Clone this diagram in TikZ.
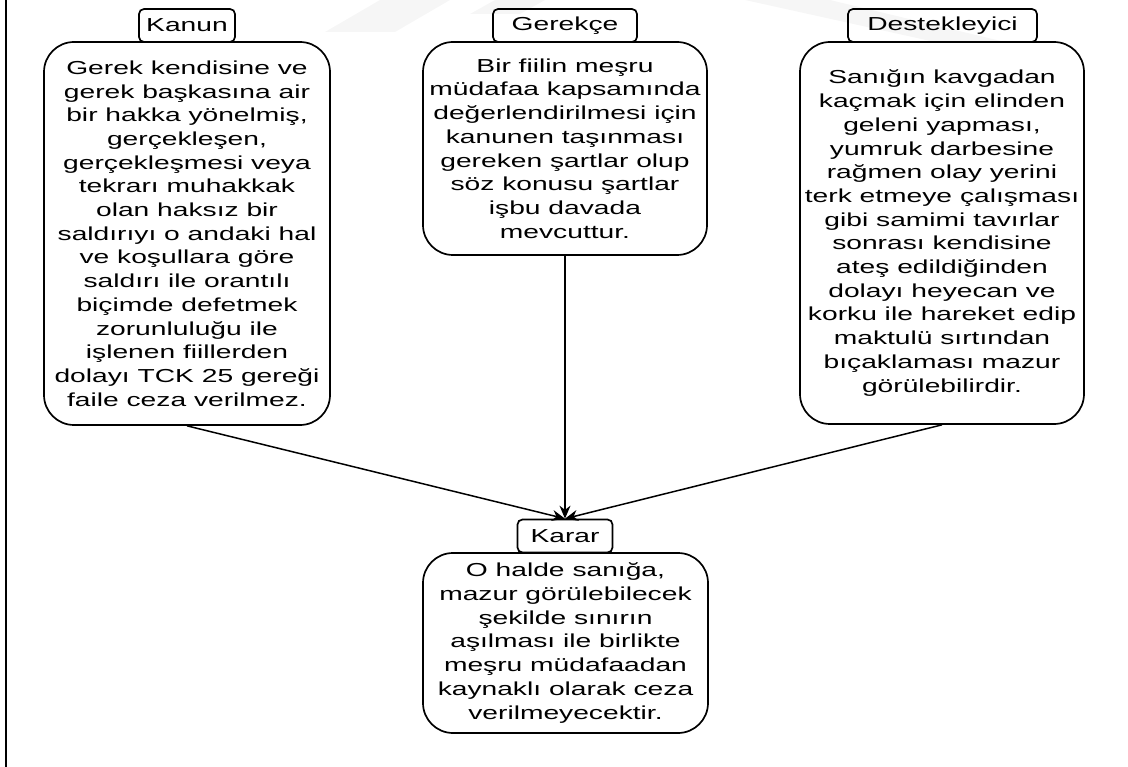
\documentclass[tikz,border=0pt]{standalone}
\usepackage{fontspec}
\setmainfont[FakeStretch=1.5]{Liberation Sans}
\usetikzlibrary{arrows.meta}
\begin{document}
\begin{tikzpicture}[x=1pt,y=-1pt,
  every node/.style={font=\fontsize{18.8}{23.7}\selectfont, inner sep=0pt, align=center},
  titlebox/.style={draw, line width=1.7pt, rounded corners=5pt, minimum height=33pt},
  textbox/.style={draw, line width=1.7pt, rounded corners=30pt},
  link/.style={line width=1.5pt, -{Stealth[length=13pt,width=11pt]}}]
\useasboundingbox (0,0) rectangle (1128,767);
% faint background watermark
\fill[gray!7] (325,32) -- (395,32) -- (450,0) -- (380,0) -- cycle;
\fill[gray!7] (470,14) -- (520,14) -- (545,0) -- (495,0) -- cycle;
\fill[gray!7] (745,0) -- (830,0) -- (1005,42) -- (935,42) -- cycle;
% frame edge
\draw[line width=2pt] (6,0) -- (6,767);

% upper row
\node[textbox, minimum width=286pt, minimum height=383pt] (kanun) at (187,233.5) {Gerek kendisine ve\\gerek başkasına air\\bir hakka yönelmiş,\\gerçekleşen,\\gerçekleşmesi veya\\tekrarı muhakkak\\olan haksız bir\\saldırıyı o andaki hal\\ve koşullara göre\\saldırı ile orantılı\\biçimde defetmek\\zorunluluğu ile\\işlenen fiillerden\\dolayı TCK 25 gereği\\faile ceza verilmez.};
\node[titlebox, minimum width=96pt] (kanunT) at (187,25.5) {Kanun};

\node[textbox, minimum width=284pt, minimum height=213pt] (gerekce) at (565,148.5) {Bir fiilin meşru\\müdafaa kapsamında\\değerlendirilmesi için\\kanunen taşınması\\gereken şartlar olup\\söz konusu şartlar\\işbu davada\\mevcuttur.};
\node[titlebox, minimum width=144pt] (gerekceT) at (565,25.5) {Gerekçe};

\node[textbox, minimum width=284pt, minimum height=382pt] (destek) at (942,233) {Sanığın kavgadan\\kaçmak için elinden\\geleni yapması,\\yumruk darbesine\\rağmen olay yerini\\terk etmeye çalışması\\gibi samimi tavırlar\\sonrası kendisine\\ateş edildiğinden\\dolayı heyecan ve\\korku ile hareket edip\\maktulü sırtından\\bıçaklaması mazur\\görülebilirdir.};
\node[titlebox, minimum width=189pt] (destekT) at (942.5,25.5) {Destekleyici};

% decision
\node[textbox, minimum width=285pt, minimum height=180pt] (karar) at (565.5,643) {O halde sanığa,\\mazur görülebilecek\\şekilde sınırın\\aşılması ile birlikte\\meşru müdafaadan\\kaynaklı olarak ceza\\verilmeyecektir.};
\node[titlebox, minimum width=95pt] (kararT) at (565,536) {Karar};

% connectors
\draw[link] (kanun.south) -- (kararT.north);
\draw[link] (gerekce.south) -- (kararT.north);
\draw[link] (destek.south) -- (kararT.north);
\end{tikzpicture}
\end{document}
